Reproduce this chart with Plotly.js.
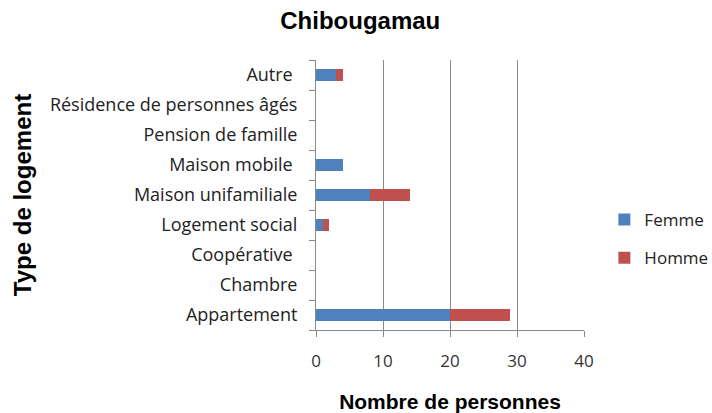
<!DOCTYPE html>
<html>
<head>
<meta charset="utf-8">
<script src="https://cdn.plot.ly/plotly-3.0.1.min.js"></script>
<style>html,body{margin:0;padding:0;background:#fff}#chart{width:712px;height:413px}</style>
</head>
<body>
<div id="chart"></div>
<script>
const categories = ["Appartement", "Chambre", "Coopérative ", "Logement social", "Maison unifamiliale", "Maison mobile ", "Pension de famille", "Résidence de personnes âgés", "Autre "];
const femme = [20, 0, 0, 1, 8, 4, 0, 0, 3];
const homme = [9, 0, 0, 1, 6, 0, 0, 0, 1];
const xTicks = [0, 10, 20, 30, 40];

const labelFont = "Open Sans, Liberation Sans, sans-serif";
const titleFont = "Liberation Sans, Arial, sans-serif";

const data = [
  {type: "bar", orientation: "h", name: "Femme", y: categories, x: femme,
   marker: {color: "#4F81BD", line: {width: 0}}, legendgroup: "f"},
  {type: "bar", orientation: "h", name: "Homme", y: categories, x: homme,
   marker: {color: "#C0504D", line: {width: 0}}, legendgroup: "h"}
];

const layout = {
  width: 712, height: 413,
  margin: {l: 316, r: 128, t: 60, b: 83, autoexpand: false},
  paper_bgcolor: "#fff", plot_bgcolor: "#fff",
  barmode: "stack", bargap: 0.6,
  font: {family: labelFont, size: 17, color: "#222"},
  title: {text: "Chibougamau", font: {family: titleFont, size: 24, color: "#000", weight: "bold"}, x: 0.506, xanchor: "center", y: 0.95, yanchor: "middle"},
  xaxis: {
    range: [0, 40], tickvals: xTicks, ticktext: xTicks.map(String),
    showgrid: true, gridcolor: "#888", gridwidth: 1, zeroline: false,
    showline: true, linecolor: "#888", linewidth: 1,
    ticks: "outside", ticklen: 6, tickcolor: "#888",
    ticklabelstandoff: 10,
    tickfont: {family: labelFont, size: 17, color: "#333"},
    title: {text: "Nombre de personnes", font: {family: titleFont, size: 21, color: "#000", weight: "bold"}, standoff: 24},
    automargin: false,
    fixedrange: true
  },
  yaxis: {
    type: "category", categoryorder: "array", categoryarray: categories,
    showgrid: false, zeroline: false,
    showline: true, linecolor: "#888", linewidth: 1,
    ticks: "outside", ticklen: 6, tickcolor: "#888", tickson: "boundaries",
    ticklabelstandoff: 14,
    tickfont: {family: labelFont, size: 18, color: "#222"},
    title: {text: "Type de logement", font: {family: titleFont, size: 24, color: "#000", weight: "bold"}, standoff: 11},
    automargin: false,
    fixedrange: true
  },
  showlegend: true,
  legend: {x: 1.076, xanchor: "left", y: 0.337, yanchor: "middle", traceorder: "grouped", tracegroupgap: 13,
           font: {family: labelFont, size: 17, color: "#222"}, itemwidth: 30}
};

Plotly.newPlot("chart", data, layout, {displayModeBar: false, staticPlot: true});
</script>
</body>
</html>
